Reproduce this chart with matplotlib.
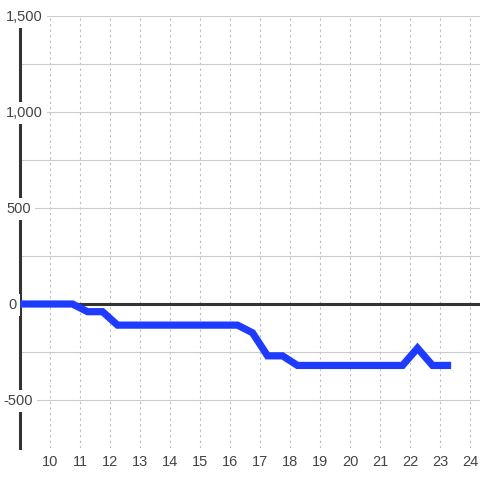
import matplotlib
matplotlib.use("Agg")
import matplotlib.pyplot as plt
import matplotlib.transforms as mtransforms
from matplotlib.ticker import FixedLocator

hours = [8.75, 9.25, 9.75, 10.25, 10.75, 11.25, 11.75, 12.25, 12.75, 13.25, 13.75,
         14.25, 14.75, 15.25, 15.75, 16.25, 16.75, 17.25, 17.75, 18.25, 18.75,
         19.25, 19.75, 20.25, 20.75, 21.25, 21.75, 22.25, 22.75, 23.25]
values = [0, 0, 0, 0, 0, -40, -40, -110, -110, -110, -110,
          -110, -110, -110, -110, -110, -150, -270, -270, -320, -320,
          -320, -320, -320, -320, -320, -320, -230, -320, -320]
x_ticks = list(range(10, 25))
y_ticks = [1500, 1000, 500, 0, -500]
y_grid = [1500, 1250, 1000, 750, 500, 250, 0, -250, -500]

plt.rcParams['font.family'] = ['Liberation Sans', 'DejaVu Sans']

fig = plt.figure(figsize=(4.8, 4.8), dpi=100, facecolor='white')
ax = fig.add_axes([20/480, 32/480, 460/480, 432/480])
ax.set_facecolor('white')
ax.set_xlim(9.0, 24.333)
ax.set_ylim(-750, 1500)

for s in ['top', 'right', 'bottom']:
    ax.spines[s].set_visible(False)
ax.spines['left'].set_color('#333333')
ax.spines['left'].set_linewidth(2.2)
ax.spines['left'].set_zorder(3)

ax.xaxis.set_major_locator(FixedLocator(x_ticks))
ax.set_xticklabels([str(t) for t in x_ticks])
ax.yaxis.set_major_locator(FixedLocator(y_grid))
ax.set_yticklabels([])
ax.tick_params(axis='both', length=0)
ax.tick_params(axis='x', pad=5, labelsize=10.5, labelcolor='#444444')

ax.grid(axis='x', color='#bbbbbb', linestyle=(0, (2, 3)), linewidth=0.8)
ax.grid(axis='y', color='#cccccc', linestyle='-', linewidth=0.8)
ax.set_axisbelow(True)

ax.axhline(0, color='#333333', linewidth=2.2, zorder=2)

ax.plot(hours, values, color='#1f3bff', linewidth=5.2,
        solid_joinstyle='miter', solid_capstyle='projecting', zorder=4)

ytr = ax.get_yaxis_transform() + mtransforms.ScaledTranslation(0, -5.0/100, fig.dpi_scale_trans)
label_left_px = {1500: 6, 1000: 6, 500: 6, 0: 8, -500: 3}
for v in y_ticks:
    xpx = label_left_px.get(v, 6)
    ax.text((xpx - 20) / 460, v, f"{v:,}", transform=ytr,
            ha='left', va='baseline', fontsize=10.5, color='#444444',
            bbox=dict(facecolor='white', edgecolor='none', pad=3.0),
            zorder=5, clip_on=False)

fig.savefig('out.png', dpi=100, facecolor='white')
